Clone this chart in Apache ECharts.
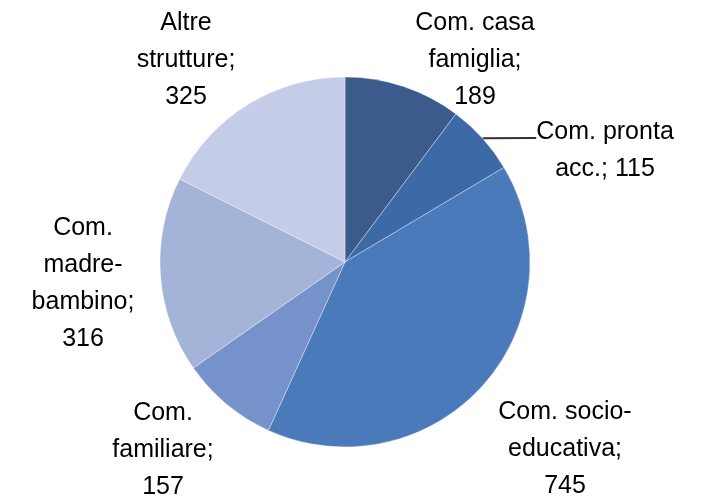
<!DOCTYPE html>
<html>
<head>
<meta charset="utf-8">
<script src="https://cdn.jsdelivr.net/npm/echarts@6/dist/echarts.min.js"></script>
<style>
  html, body { margin: 0; padding: 0; background: #fff; }
  #main { width: 704px; height: 497px; }
</style>
</head>
<body>
<div id="main"></div>
<script>
// categorie e valori
var categorie = ['Com. casa\nfamiglia', 'Com. pronta\nacc.', 'Com. socio-\neducativa', 'Com.\nfamiliare', 'Com.\nmadre-\nbambino', 'Altre\nstrutture'];
var valori = [189, 115, 745, 157, 316, 325];
var colori = ['#3b5b8d', '#3d69a6', '#4a7aba', '#7592cb', '#a4b3d8', '#c5cce8'];

// posizione delle etichette (centro del blocco di testo)
var posEtichette = [[475, 60], [605, 138], [565, 449], [163, 450], [83, 284], [186, 60]];

var chart = echarts.init(document.getElementById('main'));

var dati = [];
for (var i = 0; i < valori.length; i++) {
    dati.push({
        name: categorie[i],
        value: valori[i],
        itemStyle: { color: colori[i] },
        labelLine: { show: i === 1 },
        label: i === 1 ? {
            // "pronta acc.": riga vuota sopra, così la linea resta orizzontale
            formatter: function (p) {
                return '{s| }\n{t|Com. pronta}\n{t|acc.; ' + p.value + '}';
            },
            rich: {
                s: { lineHeight: 25, fontSize: 2 },
                t: { lineHeight: 37, fontSize: 25, fontFamily: 'Liberation Sans', color: '#000' }
            }
        } : {
            formatter: '{b};\n{c}'
        }
    });
}

var option = {
    animation: false,
    series: [{
        type: 'pie',
        center: [345, 262],
        radius: 185,
        startAngle: 90,
        clockwise: true,
        data: dati,
        itemStyle: {
            borderColor: 'rgba(255,255,255,0.35)',
            borderWidth: 1
        },
        label: {
            show: true,
            position: 'outside',
            color: '#000',
            fontFamily: 'Liberation Sans',
            fontSize: 25,
            lineHeight: 37,
            align: 'center'
        },
        labelLine: {
            length: 1,
            length2: 1,
            lineStyle: { color: '#333', width: 2 }
        },
        labelLayout: function (params) {
            var p = posEtichette[params.dataIndex];
            return {
                x: p[0],
                y: p[1],
                align: 'center',
                verticalAlign: 'middle'
            };
        }
    }]
};

chart.setOption(option);
</script>
</body>
</html>
